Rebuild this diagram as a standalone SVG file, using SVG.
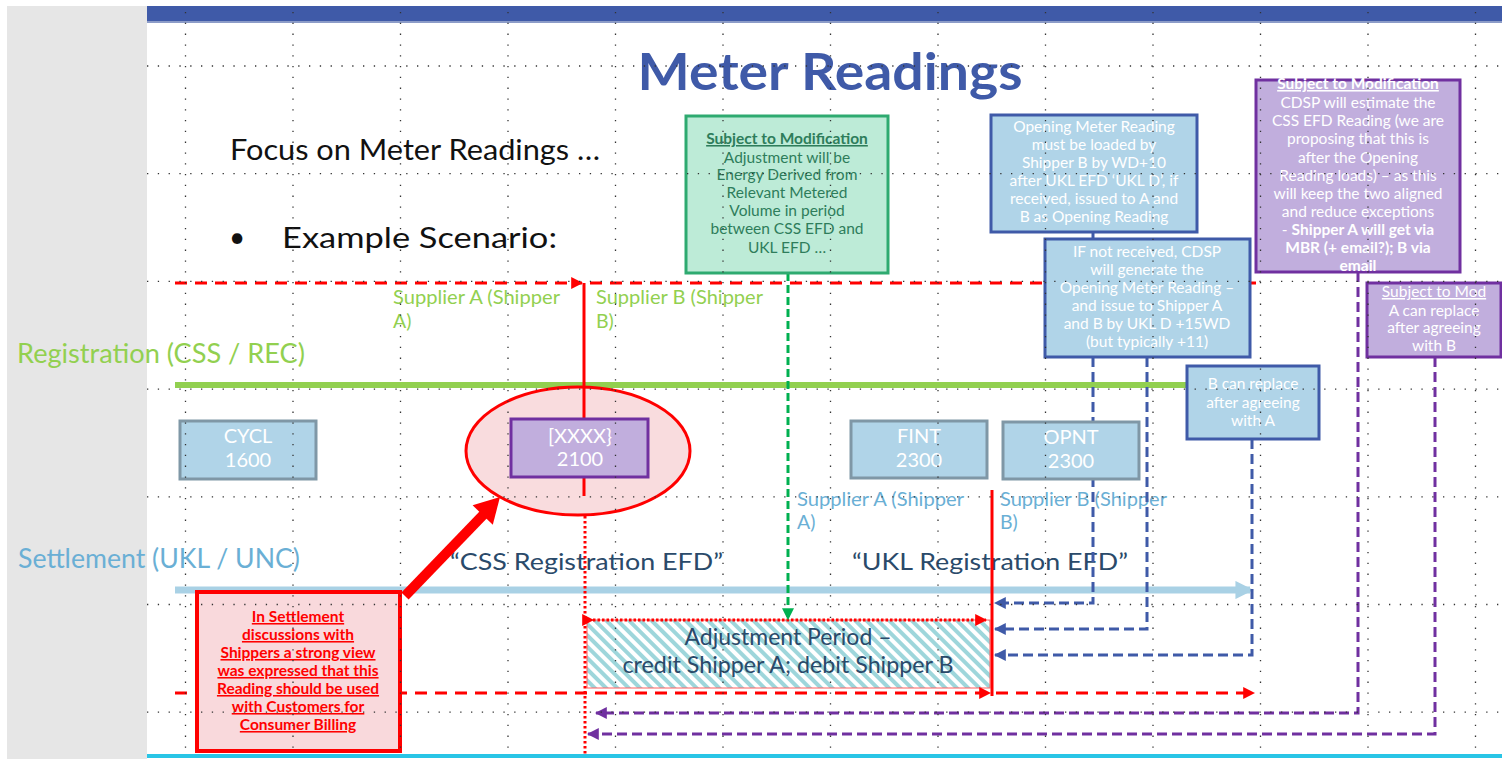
<svg xmlns="http://www.w3.org/2000/svg" width="1502" height="759" viewBox="0 0 1502 759">
<defs>
<style>
text{font-family:Lato,"Open Sans","Noto Sans",sans-serif}
.bx{font-size:15.5px;fill:#fff;text-anchor:middle}
.gbx{font-size:15.5px;fill:#2E7D5B;text-anchor:middle}
.rbx{font-size:15.5px;fill:#FF0000;text-anchor:middle;font-weight:bold;text-decoration:underline}
.code{font-size:20px;fill:#fff;text-anchor:middle}
.supg{font-size:19.5px;fill:#92D050}
.supb{font-size:19.5px;fill:#6AAFD5}
.dark{font-size:24px;fill:#2A4A6A}
.lb{fill:#B0D4E8;stroke:#3F5AA8;stroke-width:3}
.lg{fill:#B0D4E8;stroke:#7F97A6;stroke-width:3}
.pu{fill:#C1AEDD;stroke:#7030A0;stroke-width:3}
.grid line{stroke:#333;stroke-width:1.3;stroke-dasharray:1.3 9.5}
.bd{fill:none;stroke:#3F5AA8;stroke-width:3;stroke-dasharray:10 5}
.pd{fill:none;stroke:#7030A0;stroke-width:3;stroke-dasharray:10 5}
.rd{fill:none;stroke:#FF0000;stroke-width:3;stroke-dasharray:12 8}
</style>
<marker id="ab" viewBox="0 0 10 10" refX="9" refY="5" markerWidth="4" markerHeight="4" orient="auto"><path d="M0,0L10,5L0,10z" fill="#3F5AA8"/></marker>
<marker id="ap" viewBox="0 0 10 10" refX="9" refY="5" markerWidth="4" markerHeight="4" orient="auto"><path d="M0,0L10,5L0,10z" fill="#7030A0"/></marker>
<marker id="ar" viewBox="0 0 10 10" refX="9" refY="5" markerWidth="4" markerHeight="4" orient="auto"><path d="M0,0L10,5L0,10z" fill="#FF0000"/></marker>
<marker id="ag" viewBox="0 0 10 10" refX="9" refY="5" markerWidth="4" markerHeight="4" orient="auto"><path d="M0,0L10,5L0,10z" fill="#00B050"/></marker>
<marker id="asl" viewBox="0 0 10 10" refX="8" refY="5" markerWidth="2.6" markerHeight="2.6" orient="auto"><path d="M0,0L10,5L0,10z" fill="#A9D1E5"/></marker>
<pattern id="hatch" width="8" height="8" patternUnits="userSpaceOnUse" patternTransform="rotate(45)"><rect width="8" height="8" fill="#fff"/><rect width="8" height="4" fill="#9ED6DB"/></pattern>
</defs>

<!-- background -->
<rect x="0" y="0" width="1502" height="759" fill="#fff"/>
<rect x="7" y="6" width="140" height="753" fill="#E6E6E6"/>
<rect x="147" y="6" width="1355" height="17" fill="#3F5AA8"/>
<rect x="147" y="21" width="1355" height="2" fill="#8C9CC8"/>
<rect x="147" y="754" width="1355" height="4" fill="#29C5E6"/>

<!-- headings -->
<text x="830" y="90" font-size="52" font-weight="bold" fill="#3F5AA8" text-anchor="middle" textLength="385" lengthAdjust="spacingAndGlyphs">Meter Readings</text>
<text x="230" y="160" font-size="28" fill="#111" textLength="370" lengthAdjust="spacingAndGlyphs">Focus on Meter Readings …</text>
<text x="229" y="247" font-size="28" fill="#111">•</text>
<text x="282" y="248" font-size="28" fill="#111" textLength="275" lengthAdjust="spacingAndGlyphs">Example Scenario:</text>
<text x="17" y="363" font-size="26" fill="#92D050" textLength="288" lengthAdjust="spacingAndGlyphs">Registration (CSS / REC)</text>
<text x="18" y="568" font-size="26" fill="#6AAFD5" textLength="282" lengthAdjust="spacingAndGlyphs">Settlement (UKL / UNC)</text>

<!-- timelines -->
<line x1="175" y1="385" x2="1188" y2="385" stroke="#92D050" stroke-width="6"/>
<line x1="175" y1="590" x2="1250" y2="590" stroke="#A9D1E5" stroke-width="7" marker-end="url(#asl)"/>

<!-- adjustment period -->
<g id="adjustment">
<rect x="587" y="620" width="403" height="68" fill="url(#hatch)" stroke="#FF6060" stroke-width="1"/>
<text x="788" y="645" font-size="23" fill="#2A4A6A" text-anchor="middle" textLength="207" lengthAdjust="spacingAndGlyphs">Adjustment Period –</text>
<text x="788" y="673" font-size="23" fill="#2A4A6A" text-anchor="middle" textLength="331" lengthAdjust="spacingAndGlyphs">credit Shipper A; debit Shipper B</text>
</g>

<text class="dark" x="450" y="570" textLength="273" lengthAdjust="spacingAndGlyphs">“CSS Registration EFD”</text>
<text class="dark" x="852" y="570" textLength="276" lengthAdjust="spacingAndGlyphs">“UKL Registration EFD”</text>

<text class="supg" x="393" y="304" textLength="167" lengthAdjust="spacingAndGlyphs">Supplier A (Shipper</text>
<text class="supg" x="393" y="328">A)</text>
<text class="supg" x="596" y="304" textLength="167" lengthAdjust="spacingAndGlyphs">Supplier B (Shipper</text>
<text class="supg" x="596" y="328">B)</text>
<text class="supb" x="797" y="506" textLength="167" lengthAdjust="spacingAndGlyphs">Supplier A (Shipper</text>
<text class="supb" x="797" y="529">A)</text>
<text class="supb" x="1000" y="506" textLength="167" lengthAdjust="spacingAndGlyphs">Supplier B (Shipper</text>
<text class="supb" x="1000" y="529">B)</text>

<!-- connectors -->
<g id="connectors">
<line class="rd" x1="175" y1="283" x2="582" y2="283" marker-end="url(#ar)"/>
<line class="rd" x1="590" y1="283" x2="1256" y2="283"/>
<line x1="584" y1="283" x2="584" y2="496" stroke="#FF0000" stroke-width="3"/>
<line x1="585" y1="496" x2="585" y2="756" stroke="#FF0000" stroke-width="3" stroke-dasharray="2.5 2.5"/>
<line x1="992" y1="490" x2="992" y2="696" stroke="#FF0000" stroke-width="3"/>
<line class="rd" x1="175" y1="693" x2="990" y2="693" marker-end="url(#ar)"/>
<line class="rd" x1="996" y1="693" x2="1254" y2="693" marker-end="url(#ar)"/>
<line x1="593" y1="620" x2="986" y2="620" stroke="#FF0000" stroke-width="3" stroke-dasharray="2.5 2" marker-start="url(#ar)" marker-end="url(#ar)"/>
<line x1="788" y1="273" x2="788" y2="619" stroke="#00B050" stroke-width="3" stroke-dasharray="8 4" marker-end="url(#ag)"/>
<line x1="1093" y1="232" x2="1093" y2="239" stroke="#3F5AA8" stroke-width="3"/>
<path class="bd" d="M1093,357 V603 H995" marker-end="url(#ab)"/>
<path class="bd" d="M1147,357 V629 H995" marker-end="url(#ab)"/>
<path class="bd" d="M1252,439 V655 H995" marker-end="url(#ab)"/>
<path class="pd" d="M1358,272 V713 H596" marker-end="url(#ap)"/>
<path class="pd" d="M1435,357 V734 H588" marker-end="url(#ap)"/>
<line x1="405" y1="596" x2="486" y2="512" stroke="#FF0000" stroke-width="10"/>
<polygon points="500,497 492.8,524.7 472.6,505.3" fill="#FF0000"/>
</g>

<!-- nodes -->
<g id="cycl"><rect class="lg" x="180" y="421" width="136" height="58"/><text class="code" x="248" y="443">CYCL</text><text class="code" x="248" y="467">1600</text></g>
<g id="ellipse"><ellipse cx="578" cy="451" rx="112" ry="64" fill="#F9DCDE" stroke="#FF0000" stroke-width="3"/></g>
<line x1="584" y1="387" x2="584" y2="496" stroke="#FF0000" stroke-width="3"/>
<g id="xxxx"><rect class="pu" x="511" y="419" width="137" height="58"/><text class="code" x="580" y="443">[XXXX}</text><text class="code" x="580" y="466">2100</text></g>
<g id="fint"><rect class="lg" x="851" y="421" width="136" height="57"/><text class="code" x="919" y="443">FINT</text><text class="code" x="919" y="467">2300</text></g>
<g id="opnt"><rect class="lg" x="1003" y="422" width="136" height="57"/><text class="code" x="1071" y="444">OPNT</text><text class="code" x="1071" y="468">2300</text></g>

<g id="green-note">
<rect x="686" y="116" width="202" height="157" fill="#BDEBD7" stroke="#2EAA70" stroke-width="3"/>
<text class="gbx" x="787" y="144" font-weight="bold" text-decoration="underline">Subject to Modification</text>
<text class="gbx" x="787" y="163">Adjustment will be</text>
<text class="gbx" x="787" y="180">Energy Derived from</text>
<text class="gbx" x="787" y="198">Relevant Metered</text>
<text class="gbx" x="787" y="216">Volume in period</text>
<text class="gbx" x="787" y="234">between CSS EFD and</text>
<text class="gbx" x="787" y="253">UKL EFD …</text>
</g>

<g id="opening-note">
<rect class="lb" x="991" y="115" width="206" height="117"/>
<text class="bx" x="1094" y="132">Opening Meter Reading</text>
<text class="bx" x="1094" y="150">must be loaded by</text>
<text class="bx" x="1094" y="168">Shipper B by WD+10</text>
<text class="bx" x="1094" y="186">after UKL EFD ‘UKL D’, if</text>
<text class="bx" x="1094" y="204">received, issued to A and</text>
<text class="bx" x="1094" y="222">B as Opening Reading</text>
</g>

<g id="cdsp-note">
<rect class="lb" x="1045" y="239" width="205" height="118"/>
<text class="bx" x="1147" y="257">IF not received, CDSP</text>
<text class="bx" x="1147" y="275">will generate the</text>
<text class="bx" x="1147" y="293">Opening Meter Reading –</text>
<text class="bx" x="1147" y="311">and issue to Shipper A</text>
<text class="bx" x="1147" y="329">and B by UKL D +15WD</text>
<text class="bx" x="1147" y="347">(but typically +11)</text>
</g>

<g id="b-replace">
<rect class="lb" x="1187" y="366" width="132" height="73"/>
<text class="bx" x="1253" y="389">B can replace</text>
<text class="bx" x="1253" y="408">after agreeing</text>
<text class="bx" x="1253" y="426">with A</text>
</g>

<g id="purple-note">
<rect class="pu" x="1256" y="80" width="204" height="192"/>
<text class="bx" x="1358" y="89" font-weight="bold" text-decoration="underline">Subject to Modification</text>
<text class="bx" x="1358" y="108">CDSP will estimate the</text>
<text class="bx" x="1358" y="126">CSS EFD Reading (we are</text>
<text class="bx" x="1358" y="144">proposing that this is</text>
<text class="bx" x="1358" y="163">after the Opening</text>
<text class="bx" x="1358" y="181">Reading loads) – as this</text>
<text class="bx" x="1358" y="199">will keep the two aligned</text>
<text class="bx" x="1358" y="217">and reduce exceptions</text>
<text class="bx" x="1358" y="235">- <tspan font-weight="bold">Shipper A will get via</tspan></text>
<text class="bx" x="1358" y="253" font-weight="bold">MBR (+ email?); B via</text>
<text class="bx" x="1358" y="271" font-weight="bold">email</text>
</g>

<g id="a-replace">
<rect class="pu" x="1367" y="283" width="134" height="74"/>
<text class="bx" x="1434" y="297" text-decoration="underline">Subject to Mod</text>
<text class="bx" x="1434" y="316">A can replace</text>
<text class="bx" x="1434" y="333">after agreeing</text>
<text class="bx" x="1434" y="351">with B</text>
</g>

<g id="red-note">
<rect x="197" y="592" width="203" height="159" fill="#F9D9DC" stroke="#FF0000" stroke-width="4"/>
<text class="rbx" x="298" y="622">In Settlement</text>
<text class="rbx" x="298" y="640">discussions with</text>
<text class="rbx" x="298" y="658">Shippers a strong view</text>
<text class="rbx" x="298" y="676">was expressed that this</text>
<text class="rbx" x="298" y="694">Reading should be used</text>
<text class="rbx" x="298" y="712">with Customers for</text>
<text class="rbx" x="298" y="730">Consumer Billing</text>
</g>

<!-- guide grid -->
<g class="grid">
<line x1="147" y1="66" x2="1502" y2="66"/>
<line x1="147" y1="173.7" x2="1502" y2="173.7"/>
<line x1="147" y1="281.4" x2="1502" y2="281.4"/>
<line x1="147" y1="389.1" x2="1502" y2="389.1"/>
<line x1="147" y1="496.8" x2="1502" y2="496.8"/>
<line x1="147" y1="604.5" x2="1502" y2="604.5"/>
<line x1="147" y1="712.2" x2="1502" y2="712.2"/>
<line x1="185.5" y1="12" x2="185.5" y2="755"/>
<line x1="293" y1="12" x2="293" y2="755"/>
<line x1="400.5" y1="12" x2="400.5" y2="755"/>
<line x1="508" y1="12" x2="508" y2="755"/>
<line x1="615.5" y1="12" x2="615.5" y2="755"/>
<line x1="723" y1="12" x2="723" y2="755"/>
<line x1="830.5" y1="12" x2="830.5" y2="755"/>
<line x1="938" y1="12" x2="938" y2="755"/>
<line x1="1045.5" y1="12" x2="1045.5" y2="755"/>
<line x1="1153" y1="12" x2="1153" y2="755"/>
<line x1="1260.5" y1="12" x2="1260.5" y2="755"/>
<line x1="1368" y1="12" x2="1368" y2="755"/>
<line x1="1475.5" y1="12" x2="1475.5" y2="755"/>
</g>
</svg>
